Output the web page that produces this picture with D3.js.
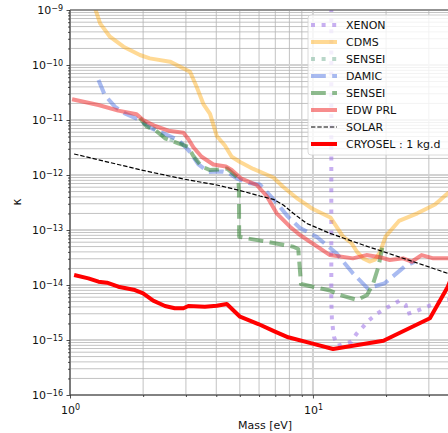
<!DOCTYPE html>
<html>
<head>
<meta charset="utf-8">
<script src="https://cdn.jsdelivr.net/npm/d3@7/dist/d3.min.js"></script>
<style>
  body { margin: 0; background: #fff; }
  svg { font-family: "DejaVu Sans", sans-serif; }
</style>
</head>
<body>
<svg width="448" height="433"></svg>
<script>
// values (mass in eV, kappa)
const xenonMass  = [11.9, 11.9, 11.97, 12.2, 12.6, 14.4, 15.1, 16.1, 16.9, 18.2, 19.6, 21.1, 22.7, 24.1, 24.4, 26.2, 28.4, 30.7, 33.2, 35.9, 40.3];
const xenonKappa = [1e-8, 5.3e-15, 2.3e-15, 1.15e-15, 7.8e-16, 9.3e-16, 1.29e-15, 1.75e-15, 2.24e-15, 2.93e-15, 3.61e-15, 4.33e-15, 5.19e-15, 4.33e-15, 2.97e-15, 3.27e-15, 3.77e-15, 4.33e-15, 4.97e-15, 5.34e-15, 6.05e-15];

const cdmsMass  = [1.255, 1.33, 1.46, 1.66, 1.94, 2.13, 2.58, 3.12, 3.32, 3.54, 3.77, 4.02, 4.34, 4.63, 5.01, 5.68, 6.87, 7.55, 8.67, 9.91, 11.8, 13.3, 14.4, 15.2, 16.1, 17.1, 18.0, 18.9, 19.9, 22.6, 26.9, 31.8, 35.9, 40.3];
const cdmsKappa = [1.23e-9, 5.7e-10, 3.27e-10, 2.15e-10, 1.52e-10, 1.32e-10, 1.15e-10, 7.55e-11, 4.03e-11, 1.95e-11, 1.29e-11, 5.12e-12, 3.43e-12, 2.15e-12, 1.72e-12, 1.29e-12, 9.0e-13, 6.05e-13, 3.67e-13, 2.46e-13, 1.69e-13, 7.55e-14, 5.8e-14, 3.98e-14, 3.05e-14, 2.67e-14, 2.9e-14, 3.98e-14, 7.6e-14, 1.46e-13, 2.01e-13, 2.91e-13, 4.65e-13, 6.58e-13];

const senseiOldMass  = [2.0, 2.24, 2.46, 2.79, 3.06];
const senseiOldKappa = [9.0e-12, 6.8e-12, 4.8e-12, 3.9e-12, 3.4e-12];

const damicMass  = [1.31, 1.39, 1.53, 1.68, 1.91, 2.17, 2.46, 2.79, 3.07, 3.37, 3.71, 4.22, 4.48, 4.85, 5.51, 6.05, 6.35, 7.09, 7.89, 8.84, 10.35, 12.5, 14.6, 16.8, 19.7, 23.8, 26.2];
const damicKappa = [5.34e-11, 2.85e-11, 1.75e-11, 1.32e-11, 1.03e-11, 7.06e-12, 5.56e-12, 4.33e-12, 2.85e-12, 1.58e-12, 1.13e-12, 1.16e-12, 1.10e-12, 8.7e-13, 7.06e-13, 6.72e-13, 5.34e-13, 3.1e-13, 1.75e-13, 1.09e-13, 7.55e-14, 3.77e-14, 1.63e-14, 8.7e-15, 1.07e-14, 2.15e-14, 2.65e-14];

const senseiMass  = [1.94, 2.07, 2.24, 2.46, 2.79, 3.06, 3.22, 3.48, 3.77, 4.08, 4.43, 4.93, 4.96, 4.97, 5.34, 6.45, 8.30, 8.70, 8.93, 10.0, 11.75, 12.9, 15.2, 16.7, 17.7, 18.6, 19.5];
const senseiKappa = [1.09e-11, 7.55e-12, 6.58e-12, 4.65e-12, 3.77e-12, 3.27e-12, 2.21e-12, 1.43e-12, 1.23e-12, 1.26e-12, 1.31e-12, 8.7e-13, 5.34e-13, 7.55e-14, 7.06e-14, 6.12e-14, 4.97e-14, 4.52e-14, 1.04e-14, 9.3e-15, 7.94e-15, 6.58e-15, 5.34e-15, 6.58e-15, 1.07e-14, 2.15e-14, 6.05e-14];

const edwMass  = [1.02, 1.31, 1.58, 1.88, 2.0, 2.24, 2.54, 2.93, 3.07, 3.22, 3.48, 3.89, 4.38, 4.63, 5.05, 5.87, 6.45, 7.09, 8.04, 8.84, 11.75, 14.6, 16.6, 18.9, 20.7, 23.5, 25.5, 28.0, 31.3, 35.9, 40.3];
const edwKappa = [2.38e-11, 1.87e-11, 1.48e-11, 1.27e-11, 1.0e-11, 7.78e-12, 6.39e-12, 5.87e-12, 4.51e-12, 3.19e-12, 2.15e-12, 1.55e-12, 1.43e-12, 1.23e-12, 8.7e-13, 6.58e-13, 4.15e-13, 2.01e-13, 1.15e-13, 8.1e-14, 3.5e-14, 3.05e-14, 3.5e-14, 3.19e-14, 2.85e-14, 3.05e-14, 2.65e-14, 3.5e-14, 3.05e-14, 3.05e-14, 3.0e-14];

const solarMass  = [1.04, 2.0, 2.97, 4.02, 5.01, 6.05, 6.87, 7.55, 8.30, 9.42, 11.75, 16.1, 19.5, 25.9, 35.9, 40.3];
const solarKappa = [2.41e-12, 1.21e-12, 8.36e-13, 6.58e-13, 5.22e-13, 4.15e-13, 3.61e-13, 2.85e-13, 2.01e-13, 1.32e-13, 8.7e-14, 5.33e-14, 4.03e-14, 2.65e-14, 1.63e-14, 1.42e-14];

const cryoselMass  = [1.04, 1.19, 1.31, 1.42, 1.58, 1.85, 2.0, 2.2, 2.46, 2.7, 2.93, 3.07, 3.59, 4.02, 4.42, 5.01, 5.96, 6.98, 7.91, 9.88, 12.1, 19.5, 30.3, 35.9, 40.3];
const cryoselKappa = [1.52e-14, 1.32e-14, 1.15e-14, 1.10e-14, 9.3e-15, 8.1e-15, 7.06e-15, 5.19e-15, 4.15e-15, 3.77e-15, 3.77e-15, 4.15e-15, 4.03e-15, 4.2e-15, 4.52e-15, 2.65e-15, 1.95e-15, 1.42e-15, 1.12e-15, 8.7e-16, 6.85e-16, 9.7e-16, 2.48e-15, 9.3e-15, 3.5e-14];

const xTickExp = [0, 1];
const yTickExp = [-16, -15, -14, -13, -12, -11, -10, -9];

const series = [
  {name: "XENON", mass: xenonMass, kappa: xenonKappa, color: "#9b6fe6", opacity: 0.55, width: 4, dash: "4,6.6"},
  {name: "CDMS", mass: cdmsMass, kappa: cdmsKappa, color: "#ffa500", opacity: 0.42, width: 4, dash: null},
  {name: "SENSEI", mass: senseiOldMass, kappa: senseiOldKappa, color: "#4f9a78", opacity: 0.4, width: 4, dash: "4,6.6"},
  {name: "DAMIC", mass: damicMass, kappa: damicKappa, color: "#4169e1", opacity: 0.45, width: 4, dash: "14.8,6.4"},
  {name: "SENSEI", mass: senseiMass, kappa: senseiKappa, color: "#1f7a1f", opacity: 0.5, width: 4, dash: "14.8,6.4"},
  {name: "EDW PRL", mass: edwMass, kappa: edwKappa, color: "#f03030", opacity: 0.55, width: 4, dash: null},
  {name: "SOLAR", mass: solarMass, kappa: solarKappa, color: "#000", opacity: 1, width: 1.2, dash: "4.4,1.9"},
  {name: "CRYOSEL : 1 kg.d", mass: cryoselMass, kappa: cryoselKappa, color: "#ff0000", opacity: 1, width: 4, dash: null}
];

const margin = {left: 70, right: 460, top: 10, bottom: 395};
const svg = d3.select("svg");
const x = d3.scaleLog().domain([1, 40.3]).range([margin.left, margin.right]);
const y = d3.scaleLog().domain([1e-16, 1e-9]).range([margin.bottom, margin.top]);

// minor/major tick values
const xMajor = xTickExp.map(e => Math.pow(10, e));
const xMinor = [2, 3, 4, 5, 6, 7, 8, 9, 20, 30, 40];
const yMajor = yTickExp.map(e => Math.pow(10, e));
const yMinor = [];
yTickExp.slice(0, -1).forEach(e => { for (let k = 2; k < 10; k++) yMinor.push(k * Math.pow(10, e)); });

// grid
const grid = svg.append("g");
grid.selectAll(".hmin").data(yMinor).enter().append("line")
  .attr("x1", margin.left).attr("x2", margin.right)
  .attr("y1", d => y(d)).attr("y2", d => y(d))
  .attr("stroke", "#b4b4b4").attr("stroke-width", 0.8);
grid.selectAll(".vmin").data(xMinor).enter().append("line")
  .attr("y1", margin.top).attr("y2", margin.bottom)
  .attr("x1", d => x(d)).attr("x2", d => x(d))
  .attr("stroke", "#b4b4b4").attr("stroke-width", 0.8);
grid.selectAll(".hmaj").data(yMajor).enter().append("line")
  .attr("x1", margin.left).attr("x2", margin.right)
  .attr("y1", d => y(d)).attr("y2", d => y(d))
  .attr("stroke", "#d2d2d2").attr("stroke-width", 2);
grid.selectAll(".vmaj").data(xMajor).enter().append("line")
  .attr("y1", margin.top).attr("y2", margin.bottom)
  .attr("x1", d => x(d)).attr("x2", d => x(d))
  .attr("stroke", "#d2d2d2").attr("stroke-width", 2);

// curves
svg.append("clipPath").attr("id", "clip").append("rect")
  .attr("x", margin.left).attr("y", margin.top)
  .attr("width", margin.right - margin.left).attr("height", margin.bottom - margin.top);
const line = d3.line().x(d => x(d[0])).y(d => y(d[1]));
svg.append("g").attr("clip-path", "url(#clip)")
  .selectAll("path").data(series).enter().append("path")
  .attr("d", d => line(d3.zip(d.mass, d.kappa)))
  .attr("fill", "none")
  .attr("stroke", d => d.color)
  .attr("stroke-opacity", d => d.opacity)
  .attr("stroke-width", d => d.width)
  .attr("stroke-dasharray", d => d.dash)
  .attr("stroke-linejoin", "round");

// axes
const tickText = (sel, exp, anchor) => {
  sel.text(null).attr("text-anchor", anchor);
  sel.append("tspan").text("10");
  sel.append("tspan").attr("dy", "-0.45em").attr("font-size", "8px").text(String(exp).replace("-", "\u2212"));
};
const yAxis = svg.append("g").attr("transform", `translate(${margin.left},0)`)
  .call(d3.axisLeft(y).tickValues(yMajor).tickSize(3.5).tickPadding(3.5).tickFormat(""));
yAxis.selectAll(".tick text").each(function (d) {
  tickText(d3.select(this).attr("dy", "0.35em"), Math.round(Math.log10(d)), "end");
});
svg.append("g").attr("transform", `translate(${margin.left},0)`)
  .call(d3.axisLeft(y).tickValues(yMinor).tickSize(2).tickFormat(""));
const xAxis = svg.append("g").attr("transform", `translate(0,${margin.bottom})`)
  .call(d3.axisBottom(x).tickValues(xMajor).tickSize(3.5).tickPadding(3.5).tickFormat(""));
xAxis.selectAll(".tick text").each(function (d) {
  tickText(d3.select(this).attr("dy", "1.05em"), Math.round(Math.log10(d)), "middle");
});
svg.append("g").attr("transform", `translate(0,${margin.bottom})`)
  .call(d3.axisBottom(x).tickValues(xMinor).tickSize(2).tickFormat(""));
svg.selectAll(".domain").remove();
svg.selectAll(".tick line").attr("stroke", "#222").attr("stroke-width", 0.8);
svg.selectAll(".tick text").attr("font-size", "11px").attr("fill", "#111").attr("font-family", "DejaVu Sans, sans-serif");

// spines
svg.append("line").attr("x1", margin.left).attr("x2", margin.left).attr("y1", margin.top).attr("y2", margin.bottom).attr("stroke", "#222").attr("stroke-width", 1);
svg.append("line").attr("x1", margin.left).attr("x2", margin.right).attr("y1", margin.bottom).attr("y2", margin.bottom).attr("stroke", "#333").attr("stroke-width", 1);
svg.append("line").attr("x1", margin.left).attr("x2", margin.right).attr("y1", margin.top).attr("y2", margin.top).attr("stroke", "#555").attr("stroke-width", 1);

// axis titles
svg.append("text").attr("x", 265).attr("y", 429).attr("text-anchor", "middle")
  .attr("font-size", "11px").attr("fill", "#111").text("Mass [eV]");
svg.append("text").attr("transform", "translate(21,202) rotate(-90)").attr("text-anchor", "middle")
  .attr("font-size", "12px").attr("fill", "#111").text("\u03ba");

// legend
const legend = svg.append("g").attr("transform", "translate(308,15)");
legend.append("rect").attr("width", 160).attr("height", 140).attr("rx", 3)
  .attr("fill", "#fff").attr("fill-opacity", 0.8).attr("stroke", "#d0d0d0").attr("stroke-width", 0.8);
const items = legend.selectAll(".item").data(series).enter().append("g")
  .attr("transform", (_, i) => `translate(0,${10 + i * 17})`);
items.append("line").attr("x1", 3).attr("x2", 29)
  .attr("stroke", d => d.color).attr("stroke-opacity", d => d.opacity)
  .attr("stroke-width", d => d.width).attr("stroke-dasharray", d => d.dash);
items.append("text").attr("x", 38).attr("dy", "0.36em")
  .attr("font-size", "11px").attr("fill", "#111").text(d => d.name);
</script>
</body>
</html>
